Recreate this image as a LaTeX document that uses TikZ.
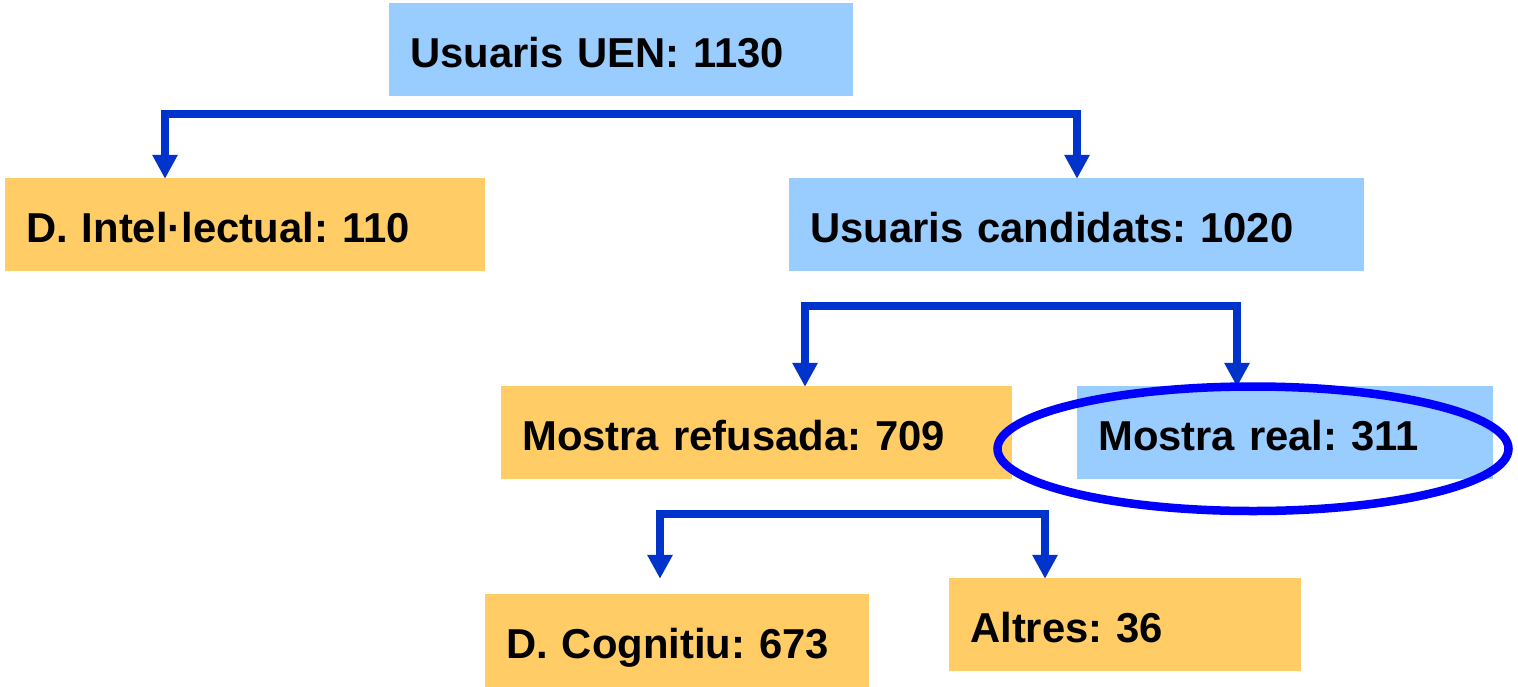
\documentclass[tikz,border=0pt]{standalone}
\usepackage{fontspec}
\setmainfont{Liberation Sans}
\usetikzlibrary{arrows.meta}
\frenchspacing
\definecolor{boxblue}{HTML}{99CCFF}
\definecolor{boxorange}{HTML}{FFCC66}
\definecolor{connblue}{HTML}{0033CC}
\definecolor{ringblue}{HTML}{0000FF}
\tikzset{
  box/.style={rectangle, anchor=west, inner xsep=21pt, inner ysep=0pt,
    text height=36pt, text depth=0pt, minimum height=93pt, align=left,
    font=\bfseries\fontsize{41.8}{48}\selectfont, text=black},
  bluebox/.style={box, fill=boxblue},
  orangebox/.style={box, fill=boxorange},
  conn/.style={draw=connblue, line width=8pt, miter limit=10,
    {Triangle[width=24pt,length=24pt]}-{Triangle[width=24pt,length=24pt]}},
  ring/.style={draw=ringblue, line width=8.5pt}
}
\begin{document}
\begin{tikzpicture}[x=1pt,y=-1pt]
\useasboundingbox (0,0) rectangle (1518,686);
% boxes
\node[bluebox, text width=422pt] (uen) at (389,49.5) {Usuaris UEN: 1130};
\node[orangebox, text width=438pt] (intel) at (5,224.5) {D. Intel·lectual: 110};
\node[bluebox, text width=533pt] (cand) at (789,224.5) {Usuaris candidats: 1020};
\node[orangebox, text width=469pt] (refus) at (501,432.5) {Mostra refusada: 709};
\node[bluebox, text width=374pt] (real) at (1077,432.5) {Mostra real: 311};
\node[orangebox, text width=342pt] (cogn) at (485,640.5) {D. Cognitiu: 673};
\node[orangebox, text width=310pt] (altres) at (949,624.5) {Altres: 36};
% bracket coordinates
\coordinate (c1l) at (165,113.5);
\coordinate (c1r) at (1077,113.5);
\coordinate (c2l) at (805,305.5);
\coordinate (c2r) at (1237,305.5);
\coordinate (c3l) at (660,513.5);
\coordinate (c3r) at (1045,513.5);
% connectors
\draw[conn] ([yshift=-1pt]intel.north -| c1l) -- (c1l) -- (c1r) -- ([yshift=-1pt]cand.north -| c1r);
\draw[conn] ([yshift=-1pt]refus.north -| c2l) -- (c2l) -- (c2r) -- ([yshift=-1pt]real.north -| c2r);
\draw[conn] ([yshift=-1pt]altres.north -| c3l) -- (c3l) -- (c3r) -- ([yshift=-1pt]altres.north -| c3r);
% highlight ring
\draw[ring] (1253,448.75) ellipse [x radius=255.5, y radius=62.25];
\end{tikzpicture}
\end{document}
